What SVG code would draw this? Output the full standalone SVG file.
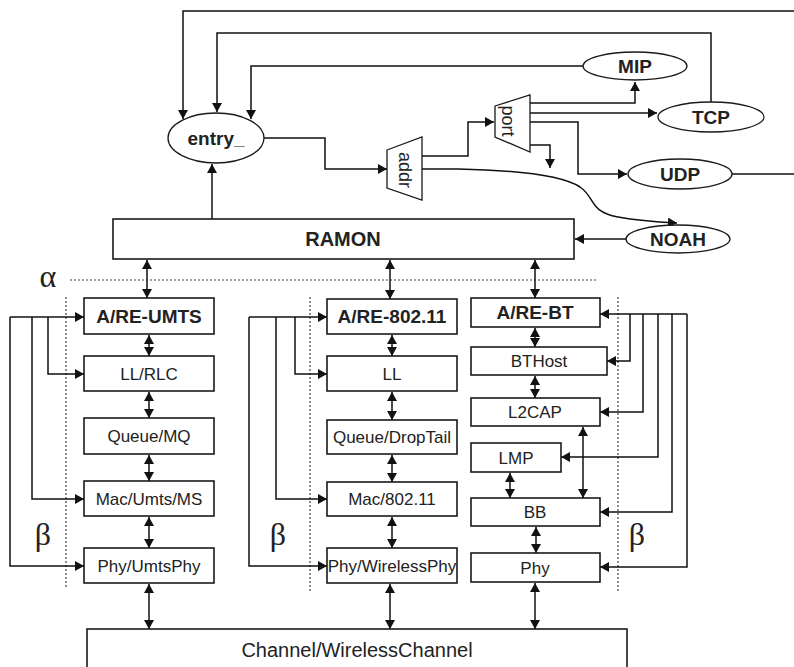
<svg xmlns="http://www.w3.org/2000/svg" width="794" height="667" viewBox="0 0 794 667">
<defs>
<marker id="ah" viewBox="0 0 10 10" refX="10" refY="5" markerWidth="9" markerHeight="10" markerUnits="userSpaceOnUse" orient="auto-start-reverse" preserveAspectRatio="none"><path d="M0,0 L10,5 L0,10 z" fill="#111"/></marker>
<style>
.box{fill:#fff;stroke:#1a1a1a;stroke-width:1.6}
.ell{fill:#fff;stroke:#1a1a1a;stroke-width:1.3}
.t{font-family:"Liberation Sans",Arial,sans-serif;font-size:17px;fill:#222;text-anchor:middle}
.b{font-family:"Liberation Sans",Arial,sans-serif;font-size:19px;font-weight:bold;fill:#222;text-anchor:middle}
.g{font-family:"Liberation Serif","Times New Roman",serif;font-size:32px;fill:#222;text-anchor:middle}
.c{fill:none;stroke:#111;stroke-width:1.5}
.a{fill:none;stroke:#111;stroke-width:1.5;marker-end:url(#ah)}
.d{fill:none;stroke:#111;stroke-width:1.5;marker-start:url(#ah);marker-end:url(#ah)}
.dot{fill:none;stroke:#444;stroke-width:1.2;stroke-dasharray:2,2}
</style>
</defs>
<rect width="794" height="667" fill="#fff"/>

<g id="connectors">
<!-- top feedback lines into entry_ -->
<polyline class="a" points="794,11 183,11 183,119"/>
<polyline class="a" points="711,102 711,33 217,33 217,112"/>
<polyline class="a" points="583,66 251,66 251,119"/>
<line class="a" x1="212" y1="219" x2="212" y2="164"/>
<polyline class="a" points="264,138 325,138 325,169 387,169"/>
<polyline class="a" points="422,156 468,156 468,122 494,122"/>
<path class="a" d="M422,169 L458,169 C505,170 560,174 580,187 C596,198 588,211 618,217 C640,221 658,222 677,223"/>
<polyline class="a" points="530,103 635,103 635,82"/>
<line class="a" x1="530" y1="113" x2="657" y2="113"/>
<polyline class="a" points="530,122 578,122 578,174 627,174"/>
<polyline class="a" points="530,145 550,145 550,168"/>
<line class="c" x1="732" y1="174" x2="794" y2="174"/>
<line class="a" x1="626" y1="239" x2="575" y2="239"/>

<!-- alpha / beta dotted separators -->
<line class="dot" x1="70" y1="280" x2="597" y2="280"/>
<line class="dot" x1="66" y1="297" x2="66" y2="589"/>
<line class="dot" x1="310" y1="297" x2="310" y2="592"/>
<line class="dot" x1="618" y1="297" x2="618" y2="592"/>

<!-- RAMON to A/RE -->
<line class="d" x1="147" y1="260" x2="147" y2="298"/>
<line class="d" x1="390" y1="260" x2="390" y2="299"/>
<line class="d" x1="535" y1="260" x2="535" y2="298"/>

<!-- UMTS stack -->
<line class="d" x1="149" y1="335" x2="149" y2="356"/>
<line class="d" x1="149" y1="392" x2="149" y2="418"/>
<line class="d" x1="149" y1="455" x2="149" y2="481"/>
<line class="d" x1="149" y1="517" x2="149" y2="548"/>
<line class="d" x1="149" y1="584" x2="149" y2="629"/>
<line class="a" x1="10" y1="317" x2="84" y2="317"/>
<polyline class="a" points="10,317 10,566 84,566"/>
<polyline class="a" points="32,317 32,499 84,499"/>
<polyline class="a" points="48,317 48,374 84,374"/>

<!-- 802.11 stack -->
<line class="d" x1="392" y1="335" x2="392" y2="356"/>
<line class="d" x1="392" y1="392" x2="392" y2="420"/>
<line class="d" x1="392" y1="455" x2="392" y2="482"/>
<line class="d" x1="392" y1="517" x2="392" y2="548"/>
<line class="d" x1="390" y1="584" x2="390" y2="629"/>
<line class="a" x1="249" y1="317" x2="327" y2="317"/>
<polyline class="a" points="249,317 249,566 327,566"/>
<polyline class="a" points="276,317 276,499 327,499"/>
<polyline class="a" points="295,317 295,374 327,374"/>

<!-- BT stack -->
<line class="d" x1="535" y1="328" x2="535" y2="347"/>
<line class="d" x1="535" y1="376" x2="535" y2="398"/>
<line class="d" x1="583" y1="427" x2="583" y2="498"/>
<line class="d" x1="510" y1="473" x2="510" y2="498"/>
<line class="d" x1="536" y1="527" x2="536" y2="553"/>
<line class="d" x1="535" y1="583" x2="535" y2="629"/>
<line class="a" x1="687" y1="314" x2="600" y2="314"/>
<polyline class="a" points="630,314 630,361 607,361"/>
<polyline class="a" points="643,314 643,412 600,412"/>
<polyline class="a" points="658,314 658,457 561,457"/>
<polyline class="a" points="672,314 672,512 600,512"/>
<polyline class="a" points="687,314 687,567 600,567"/>
</g>

<g id="entry">
<ellipse class="ell" cx="216" cy="138" rx="48" ry="25"/>
<text class="b" x="216" y="145">entry_</text>
</g>
<g id="addr">
<polygon class="ell" points="387,150 422,137 422,200 387,188"/>
<text class="t" style="font-size:18px" transform="translate(405,170) rotate(90)" dy="6">addr</text>
</g>
<g id="port">
<polygon class="ell" points="495,106 530,95 530,152 495,137"/>
<text class="t" style="font-size:18px" transform="translate(508,121) rotate(90)" dy="6">port</text>
</g>
<g id="mip">
<ellipse class="ell" cx="635" cy="66" rx="52" ry="14"/>
<text class="b" x="635" y="73">MIP</text>
</g>
<g id="tcp">
<ellipse class="ell" cx="711" cy="117" rx="53" ry="15"/>
<text class="b" x="711" y="124">TCP</text>
</g>
<g id="udp">
<ellipse class="ell" cx="680" cy="174" rx="52" ry="15"/>
<text class="b" x="680" y="181">UDP</text>
</g>
<g id="noah">
<ellipse class="ell" cx="678" cy="239" rx="52" ry="14"/>
<text class="b" x="678" y="246">NOAH</text>
</g>
<g id="ramon">
<rect class="box" x="113" y="219" width="461" height="40"/>
<text class="b" style="font-size:20px" x="343" y="246">RAMON</text>
</g>

<g id="alpha"><text class="g" x="48" y="287">α</text></g>
<g id="beta-umts"><text class="g" x="43" y="545">β</text></g>
<g id="beta-80211"><text class="g" x="278" y="545">β</text></g>
<g id="beta-bt"><text class="g" x="637" y="545">β</text></g>

<g id="are-umts"><rect class="box" x="84" y="298" width="130" height="36"/><text class="b" x="149" y="323">A/RE-UMTS</text></g>
<g id="ll-rlc"><rect class="box" x="84" y="356" width="130" height="35"/><text class="t" x="149" y="380">LL/RLC</text></g>
<g id="queue-mq"><rect class="box" x="84" y="418" width="130" height="36"/><text class="t" x="149" y="442">Queue/MQ</text></g>
<g id="mac-umts"><rect class="box" x="84" y="481" width="130" height="35"/><text class="t" x="149" y="505">Mac/Umts/MS</text></g>
<g id="phy-umts"><rect class="box" x="84" y="548" width="130" height="35"/><text class="t" x="149" y="572">Phy/UmtsPhy</text></g>

<g id="are-80211"><rect class="box" x="327" y="299" width="130" height="35"/><text class="b" x="392" y="323">A/RE-802.11</text></g>
<g id="ll"><rect class="box" x="327" y="356" width="130" height="35"/><text class="t" x="392" y="380">LL</text></g>
<g id="queue-droptail"><rect class="box" x="327" y="420" width="130" height="34"/><text class="t" x="392" y="443">Queue/DropTail</text></g>
<g id="mac-80211"><rect class="box" x="327" y="482" width="130" height="34"/><text class="t" x="392" y="505">Mac/802.11</text></g>
<g id="phy-wireless"><rect class="box" x="327" y="548" width="130" height="35"/><text class="t" x="392" y="572">Phy/WirelessPhy</text></g>

<g id="are-bt"><rect class="box" x="471" y="298" width="129" height="29"/><text class="b" x="535" y="319">A/RE-BT</text></g>
<g id="bthost"><rect class="box" x="471" y="347" width="136" height="28"/><text class="t" x="539" y="367">BTHost</text></g>
<g id="l2cap"><rect class="box" x="471" y="398" width="129" height="28"/><text class="t" x="535" y="418">L2CAP</text></g>
<g id="lmp"><rect class="box" x="471" y="443" width="90" height="29"/><text class="t" x="516" y="464">LMP</text></g>
<g id="bb"><rect class="box" x="471" y="498" width="129" height="28"/><text class="t" x="535" y="518">BB</text></g>
<g id="phy-bt"><rect class="box" x="471" y="553" width="129" height="29"/><text class="t" x="535" y="574">Phy</text></g>

<g id="channel"><rect class="box" x="87" y="629" width="540" height="60"/><text class="t" style="font-size:20px" x="357" y="657">Channel/WirelessChannel</text></g>
</svg>
